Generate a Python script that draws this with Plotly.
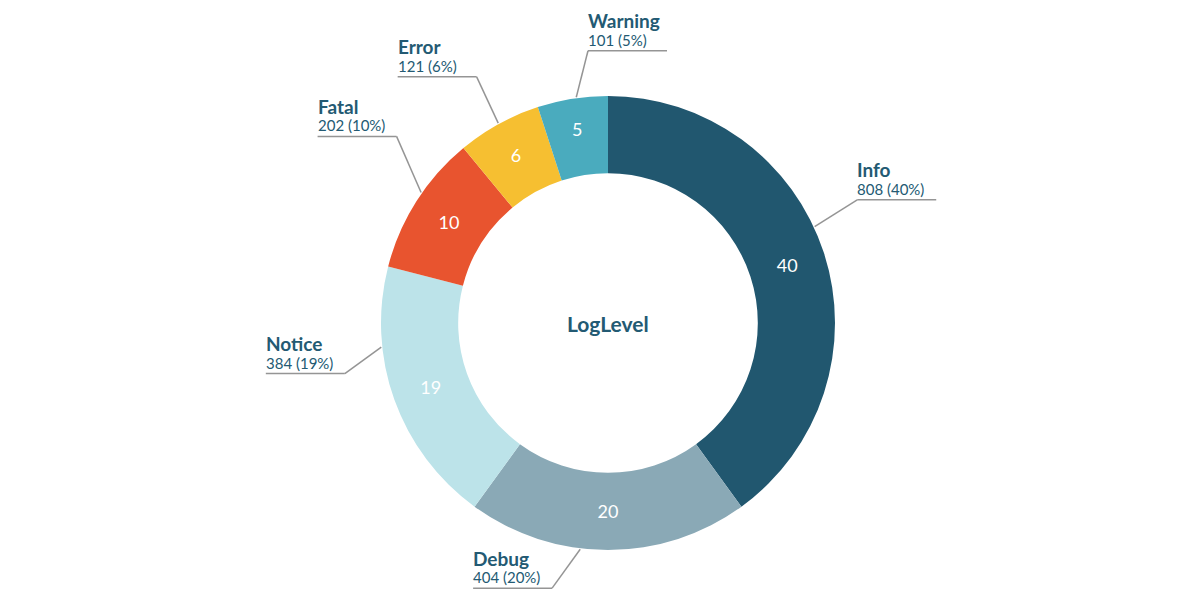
import math
import plotly.graph_objects as go

# ---- data ----
levels = ["Info", "Debug", "Notice", "Fatal", "Error", "Warning"]
counts = [808, 404, 384, 202, 121, 101]
colors = ["#21576f", "#8aa9b6", "#bce3e9", "#e8542f", "#f6bf31", "#4aabbe"]
center_title = "LogLevel"

# ---- layout constants (pixels / degrees) ----
PAGE_OFF = 8                     # default body margin of the html page
W, H = 1200 - 2 * PAGE_OFF, 602 - 2 * PAGE_OFF
CX, CY, R = 608, 323, 227         # in window pixels
HOLE = 0.66
TICK_START_SHIFT = [-7, 7, 13.7, 2.5, 0, 1]      # deg, relative to slice middle
ELBOW_SHIFT = [-8.3, 11.9, 8.9, 9, 0.7, 4.8]      # deg, relative to slice middle
ELBOW_R = [278, 271, 268, 282, 279, 273]
LABEL_SIDE = ["right", "left", "left", "left", "left", "right"]
LINE_LEN = 79
TXT = "#235a73"
LINE_COLOR = "#959595"
FONT = "Lato"

total = sum(counts)
pcts = [round(c / total * 100) for c in counts]


def px(x):
    return (x - PAGE_OFF) / W


def py(y):
    return 1 - (y - PAGE_OFF) / H


def polar(angle_deg, r):
    a = math.radians(angle_deg)
    return CX + r * math.sin(a), CY - r * math.cos(a)


fig = go.Figure()
fig.add_trace(go.Pie(
    labels=levels,
    values=counts,
    text=[str(p) for p in pcts],
    textinfo="text",
    textposition="inside",
    insidetextorientation="horizontal",
    textfont=dict(family=FONT, size=18, color="white"),
    marker=dict(colors=colors, line=dict(width=0)),
    hole=HOLE,
    sort=False,
    direction="clockwise",
    rotation=0,
    showlegend=False,
    domain=dict(x=[px(CX - R), px(CX + R)], y=[py(CY + R), py(CY - R)]),
))

shapes = []
annotations = []
cum = 0
for i, (lvl, c, p) in enumerate(zip(levels, counts, pcts)):
    mid = (cum + c / 2) / total * 360
    cum += c
    sx, sy = polar(mid + TICK_START_SHIFT[i], R + 1)
    ex, ey = polar(mid + ELBOW_SHIFT[i], ELBOW_R[i])
    if LABEL_SIDE[i] == "right":
        lx0, lx1 = ex, ex + LINE_LEN
    else:
        lx0, lx1 = ex - LINE_LEN, ex
    shapes.append(dict(type="line", xref="paper", yref="paper",
                       x0=px(sx), y0=py(sy), x1=px(ex), y1=py(ey),
                       line=dict(color=LINE_COLOR, width=1.5)))
    shapes.append(dict(type="line", xref="paper", yref="paper",
                       x0=px(lx0), y0=py(ey), x1=px(lx1), y1=py(ey),
                       line=dict(color=LINE_COLOR, width=1.5)))
    annotations.append(dict(xref="paper", yref="paper", x=px(lx0), y=py(ey - 30),
                            xanchor="left", yanchor="middle", showarrow=False,
                            borderpad=0, borderwidth=0,
                            text=f"<b>{lvl}</b>",
                            font=dict(family=FONT, size=19, color=TXT)))
    annotations.append(dict(xref="paper", yref="paper", x=px(lx0), y=py(ey - 11),
                            xanchor="left", yanchor="middle", showarrow=False,
                            borderpad=0, borderwidth=0,
                            text=f"{c} ({p}%)",
                            font=dict(family=FONT, size=15, color=TXT)))

annotations.append(dict(xref="paper", yref="paper", x=px(CX), y=py(CY),
                        xanchor="center", yanchor="middle", showarrow=False,
                        text=f"<b>{center_title}</b>",
                        font=dict(family=FONT, size=21, color=TXT)))

fig.update_layout(
    width=W, height=H,
    margin=dict(l=0, r=0, t=0, b=0),
    paper_bgcolor="white", plot_bgcolor="white",
    shapes=shapes, annotations=annotations,
    font=dict(family=FONT),
)

fig.write_html("out.html")
